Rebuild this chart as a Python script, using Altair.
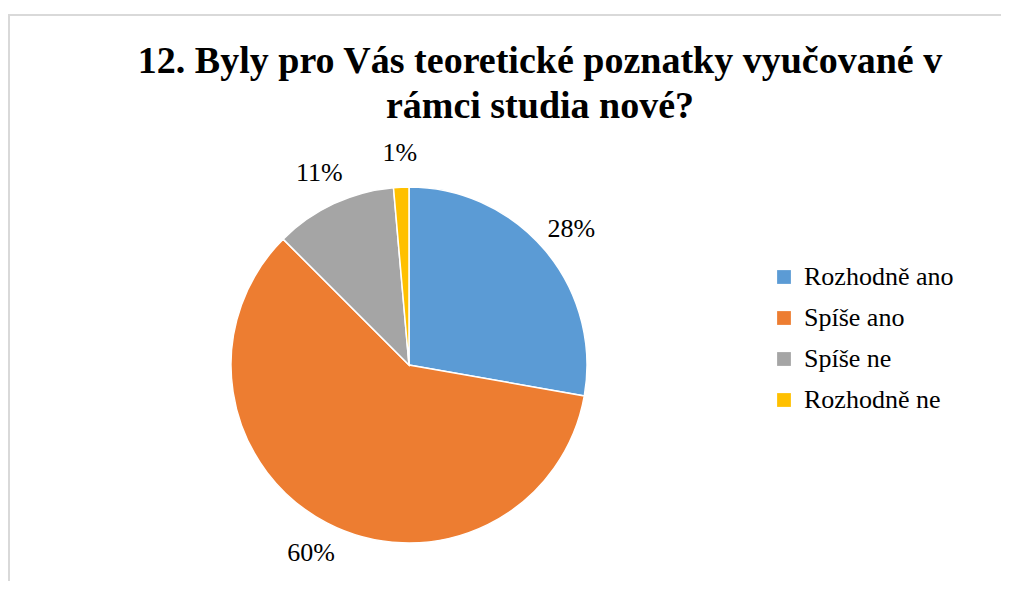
import altair as alt
import pandas as pd

categories = ["Rozhodně ano", "Spíše ano", "Spíše ne", "Rozhodně ne"]
counts = [20, 43, 8, 1]
pct_labels = ["28%", "60%", "11%", "1%"]
colors = ["#5B9BD5", "#ED7D31", "#A5A5A5", "#FFC000"]
title_lines = ["12. Byly pro Vás teoretické poznatky vyučované v", "rámci studia nové?"]

df = pd.DataFrame({
    "cat": categories,
    "value": counts,
    "label": pct_labels,
    "ord": list(range(len(categories))),
})

CX, CY, R = 401, 357, 178
SERIF = "Liberation Serif"

base = alt.Chart(df).encode(
    theta=alt.Theta("value:Q", stack=True),
    order=alt.Order("ord:Q"),
)

pie = base.mark_arc(stroke="white", strokeWidth=1.5, radius=R).encode(
    color=alt.Color(
        "cat:N",
        scale=alt.Scale(domain=categories, range=colors),
        sort=categories,
        legend=alt.Legend(
            title=None, labelFont=SERIF, labelFontSize=26, labelColor="#000000",
            orient="none", legendX=763, legendY=256, symbolType="square",
            symbolSize=190, rowPadding=15, labelOffset=7, padding=0,
            symbolStrokeWidth=0, labelLimit=400,
        ),
    ),
    x=alt.value(CX),
    y=alt.value(CY),
)

labels = base.mark_text(
    radius=212, font=SERIF, fontSize=26, color="#000000", align="center", baseline="middle"
).encode(
    text="label:N",
    x=alt.value(CX),
    y=alt.value(CY),
)

tdf = pd.DataFrame({"t": title_lines, "line": [0, 1]})
title = alt.Chart(tdf).mark_text(
    font=SERIF, fontSize=38, fontWeight="bold", color="#000000",
    align="center", baseline="alphabetic",
).encode(
    text="t:N",
    x=alt.value(532),
    y=alt.Y("line:Q", scale=alt.Scale(domain=[0, 1], range=[65, 110]), axis=None),
)

border = alt.Chart(pd.DataFrame({"a": [0]})).mark_rect(
    fill="transparent", stroke="#D9D9D9", strokeWidth=2
).encode(
    x=alt.value(1), x2=alt.value(1300), y=alt.value(7), y2=alt.value(900)
)

chart = alt.layer(border, pie, labels, title).properties(
    width=993, height=573,
    autosize=alt.AutoSizeParams(type="none"),
    padding=0,
).configure_view(stroke=None)

chart.save("out.html", embed_options={"renderer": "svg", "actions": False})
